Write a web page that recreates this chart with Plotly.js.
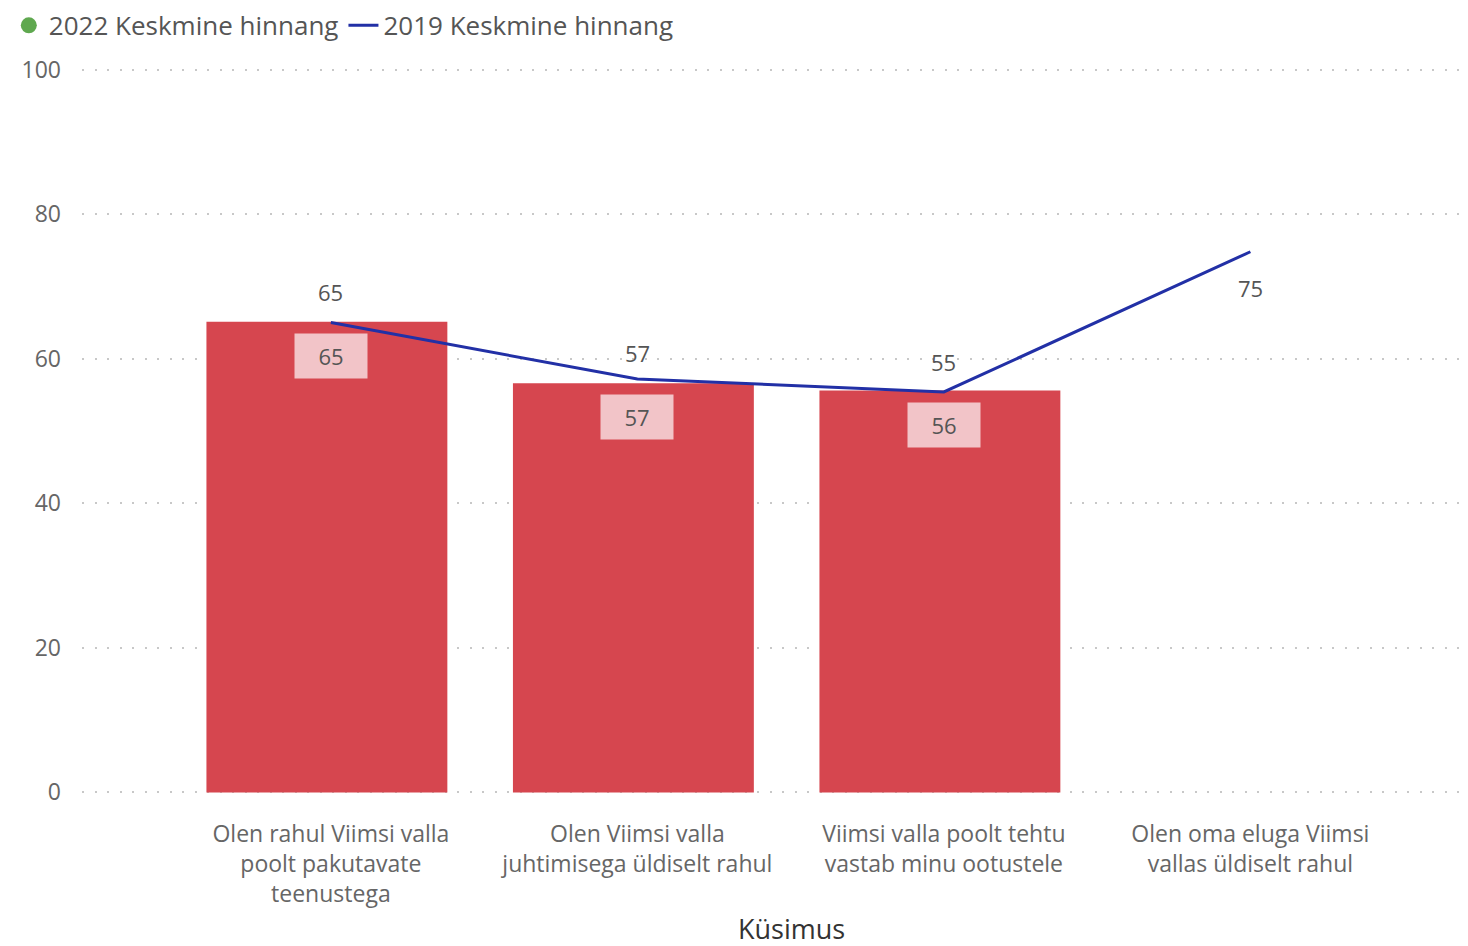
<!DOCTYPE html>
<html>
<head>
<meta charset="utf-8">
<script src="https://cdn.plot.ly/plotly-3.0.1.min.js"></script>
<style>html,body{margin:0;padding:0;background:#fff;}#chart{width:1468px;height:946px;}</style>
</head>
<body>
<div id="chart"></div>
<script>
const categories = [
  "Olen rahul Viimsi valla<br>poolt pakutavate<br>teenustega",
  "Olen Viimsi valla<br>juhtimisega üldiselt rahul",
  "Viimsi valla poolt tehtu<br>vastab minu ootustele",
  "Olen oma eluga Viimsi<br>vallas üldiselt rahul"
];
const values2022 = [65.1, 56.6, 55.6, null];
const values2019 = [65.0, 57.2, 55.4, 74.8];
const labels2022 = ["65", "57", "56"];
const labels2019 = ["65", "57", "55", "75"];
const name2022 = "2022 Keskmine hinnang";
const name2019 = "2019 Keskmine hinnang";
const axisTitle = "Küsimus";
const yTicks = [0, 20, 40, 60, 80, 100];

const FONT = "Open Sans, Segoe UI, sans-serif";
const xIdx = categories.map((_, i) => i);
const BAR_W = 0.786;

const traces = [
  {
    type: "bar", x: xIdx, y: values2022, name: name2022, showlegend: false,
    marker: {color: "#D6464F"}, width: BAR_W, offset: -BAR_W / 2 - 0.013, hoverinfo: "y"
  },
  {
    type: "scatter", mode: "lines", x: xIdx, y: values2019, name: name2019,
    line: {color: "#2230A6", width: 3}
  },
  {
    type: "scatter", mode: "markers", x: [null], y: [null], name: name2022,
    marker: {color: "#5FA84F", size: 18, symbol: "circle"}
  }
];

const annotations = [];
values2022.forEach((v, i) => {
  if (v === null) return;
  annotations.push({
    x: i, y: v, xref: "x", yref: "y", text: labels2022[i], showarrow: false,
    yshift: -34, bgcolor: "#F2C4C8", borderpad: 7, width: 58,
    font: {family: FONT, size: 22, color: "#555"}
  });
});
values2019.forEach((v, i) => {
  annotations.push({
    x: i, y: v, xref: "x", yref: "y", text: labels2019[i], showarrow: false,
    yshift: i === 3 ? -36 : (i === 0 ? 31 : (i === 1 ? 26 : 30)),
    font: {family: FONT, size: 22, color: "#555"}
  });
});
annotations.push({
  x: 0.512, y: -0.181, xref: "paper", yref: "paper", text: axisTitle, showarrow: false,
  xanchor: "center", yanchor: "middle",
  font: {family: FONT, size: 27, color: "#333"}
});

const layout = {
  width: 1468, height: 946,
  margin: {l: 82, r: 0, t: 66.4, b: 150.4},
  paper_bgcolor: "#fff", plot_bgcolor: "#fff",
  font: {family: FONT, color: "#666"},
  showlegend: true,
  legend: {
    orientation: "h", xref: "container", yref: "container", x: 0.006, y: 0.998,
    xanchor: "left", yanchor: "top",
    font: {family: FONT, size: 26, color: "#555"},
    traceorder: "reversed", itemwidth: 30
  },
  xaxis: {
    range: [-0.812, 3.71], tickvals: xIdx, ticktext: categories,
    showgrid: false, zeroline: false, showline: false, ticks: "",
    ticklabelstandoff: 22,
    tickfont: {family: FONT, size: 23, color: "#666"},
    fixedrange: true
  },
  yaxis: {
    range: [-0.5, 100.5], tickvals: yTicks, showgrid: true,
    gridcolor: "#C8C8C8", gridwidth: 2, griddash: "2px,10.5px",
    zeroline: false, showline: false, ticks: "",
    ticklabelstandoff: 20,
    tickfont: {family: FONT, size: 23, color: "#666"},
    fixedrange: true
  },
  annotations: annotations
};

Plotly.newPlot("chart", traces, layout, {displayModeBar: false, staticPlot: true});
</script>
</body>
</html>
